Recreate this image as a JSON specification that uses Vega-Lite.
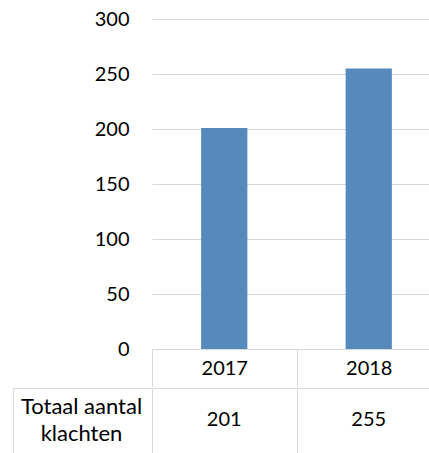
{
  "$schema": "https://vega.github.io/schema/vega-lite/v6.json",
  "padding": {"left": 12, "top": 9, "right": 0, "bottom": 0},
  "spacing": 0,
  "config": {
    "view": {"stroke": null},
    "font": "Lato",
    "axis": {"labelFont": "Lato", "labelFontSize": 20, "labelColor": "#000000", "titleFont": "Lato", "titleColor": "#000000", "titleFontWeight": "normal", "gridColor": "#d9d9d9", "domainColor": "#d9d9d9", "tickColor": "#d9d9d9"},
    "text": {"font": "Lato", "fontSize": 20, "color": "#000000"}
  },
  "vconcat": [
    {
      "width": 289,
      "height": 330,
      "data": {"values": [
        {"Jaar": "2017", "Klachten": 201},
        {"Jaar": "2018", "Klachten": 255}
      ]},
      "mark": {"type": "bar", "width": {"band": 0.32}, "color": "#5689BC"},
      "encoding": {
        "x": {
          "field": "Jaar", "type": "ordinal",
          "scale": {"paddingInner": 0, "paddingOuter": 0},
          "axis": {"title": null, "labelAngle": 0, "tickBand": "extent", "tickSize": 37, "labelPadding": -18, "labelBaseline": "middle", "grid": false}
        },
        "y": {
          "field": "Klachten", "type": "quantitative",
          "scale": {"domain": [0, 300]},
          "axis": {"title": null, "values": [0, 50, 100, 150, 200, 250, 300], "domain": false, "ticks": false, "grid": true, "labelPadding": 23}
        }
      }
    },
    {
      "width": 289,
      "height": 67,
      "view": {"stroke": "#d9d9d9"},
      "data": {"values": [
        {"Jaar": "2017", "Rij": "Totaal aantal klachten", "Klachten": 201},
        {"Jaar": "2018", "Rij": "Totaal aantal klachten", "Klachten": 255}
      ]},
      "mark": {"type": "text", "baseline": "middle", "dy": -2},
      "encoding": {
        "x": {
          "field": "Jaar", "type": "ordinal",
          "scale": {"paddingInner": 0, "paddingOuter": 0},
          "axis": {"title": null, "labels": false, "ticks": false, "domain": false, "grid": true, "tickBand": "extent"}
        },
        "y": {
          "field": "Rij", "type": "nominal",
          "axis": {"title": ["Totaal aantal", "klachten"], "titleAngle": 0, "titleAlign": "center", "titleBaseline": "middle", "titleFontSize": 22, "titleLineHeight": 27, "titleX": 68, "titleY": 18, "labels": false, "offset": 139, "tickSize": -139, "tickBand": "extent"}
        },
        "text": {"field": "Klachten", "type": "quantitative"}
      }
    }
  ]
}
